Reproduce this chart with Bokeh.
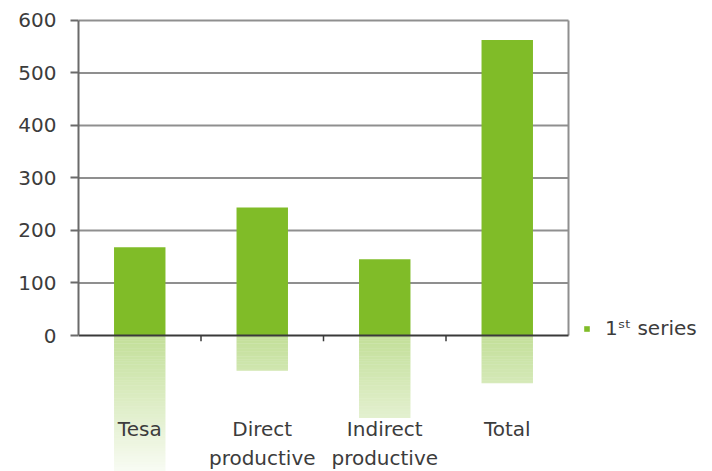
import numpy as np
from bokeh.plotting import figure
from bokeh.models import (Range1d, LinearAxis, FixedTicker, Legend, LegendItem,
                          ColumnDataSource)
from bokeh.embed import file_html
from bokeh.resources import INLINE
from bokeh.core.properties import value

# ---- data ----
categories = ["Tesa", "Direct\nproductive", "Indirect\nproductive", "Total"]
values = [168, 244, 145, 563]
reflection_depth = [-260, -67, -157, -91]
y_ticks = [0, 100, 200, 300, 400, 500, 600]
series_name = "1\u02e2\u1d57 series"

FONT = "DejaVu Sans"
FS = "20px"
GREEN = "#80bc28"
TEXT = "#3c3c3c"
GRID = "#8f8f8f"
AX = "#3a3a3a"

n = len(categories)
x = np.arange(n) + 0.5
bar_w = 0.42
cat_px = 122.5
frame_w = 712 - 78

p = figure(width=712, height=471, output_backend="svg", toolbar_location=None,
           x_range=Range1d(0, frame_w / cat_px), y_range=Range1d(-259, 638),
           min_border_left=78, min_border_right=0, min_border_top=0, min_border_bottom=0,
           x_axis_location=None, y_axis_location=None)
p.outline_line_color = None
p.grid.visible = False
p.background_fill_color = "white"
p.border_fill_color = "white"

# horizontal grid lines and right border, limited to the category area
gy = y_ticks[1:]
p.segment(x0=[0] * len(gy), y0=gy, x1=[n] * len(gy), y1=gy,
          line_color=GRID, line_width=2)
p.segment(x0=[n], y0=[y_ticks[0]], x1=[n], y1=[y_ticks[-1]],
          line_color=GRID, line_width=2)

yaxis = LinearAxis(bounds=(0, 600), ticker=FixedTicker(ticks=y_ticks),
                   major_tick_out=8, major_tick_in=0, minor_tick_line_color=None,
                   axis_line_color="#6a6a6a", axis_line_width=2,
                   major_tick_line_color="#6a6a6a", major_tick_line_width=2,
                   major_label_text_font=FONT, major_label_text_font_size=FS,
                   major_label_text_color=TEXT, major_label_standoff=14)
p.add_layout(yaxis, "left")

# reflections: gradient fading with depth
bands = np.linspace(0, -260, 53)
rl, rr, rt, rb, ra = [], [], [], [], []
for i in range(n):
    for k in range(len(bands) - 1):
        top, bot = bands[k], bands[k + 1]
        if top <= reflection_depth[i]:
            continue
        bot = max(bot, reflection_depth[i])
        mid = (top + bot) / 2
        alpha = 0.48 - 0.43 * (-mid / 260)
        rl.append(x[i] - bar_w / 2)
        rr.append(x[i] + bar_w / 2)
        rt.append(top)
        rb.append(bot)
        ra.append(alpha)
p.quad(left=rl, right=rr, top=rt, bottom=rb, fill_color=GREEN, fill_alpha=ra,
       line_color=None)

src = ColumnDataSource(dict(x=x, top=values, label=categories))
bars = p.vbar(x="x", top="top", bottom=0, width=bar_w, source=src,
              fill_color=GREEN, line_color=None)

# zero line and category separators
p.segment(x0=[0], y0=[0], x1=[n], y1=[0], line_color=AX, line_width=2)
bounds = np.arange(1, n)
p.segment(x0=bounds, y0=[0] * len(bounds), x1=bounds, y1=[-11] * len(bounds),
          line_color=AX, line_width=1.5)

p.text(x="x", y=-156, text="label", source=src, text_align="center",
       text_baseline="top", text_font=value(FONT), text_font_size=FS,
       text_color=TEXT, text_line_height=1.2)

legend = Legend(items=[LegendItem(label=series_name, renderers=[bars])],
                location=(505, 131), glyph_width=7, glyph_height=7,
                label_text_font=FONT, label_text_font_size=FS,
                label_text_color=TEXT, border_line_color=None,
                background_fill_alpha=0, padding=0, margin=0, label_standoff=15)
p.add_layout(legend)

open("out.html", "w").write(file_html(p, INLINE))
